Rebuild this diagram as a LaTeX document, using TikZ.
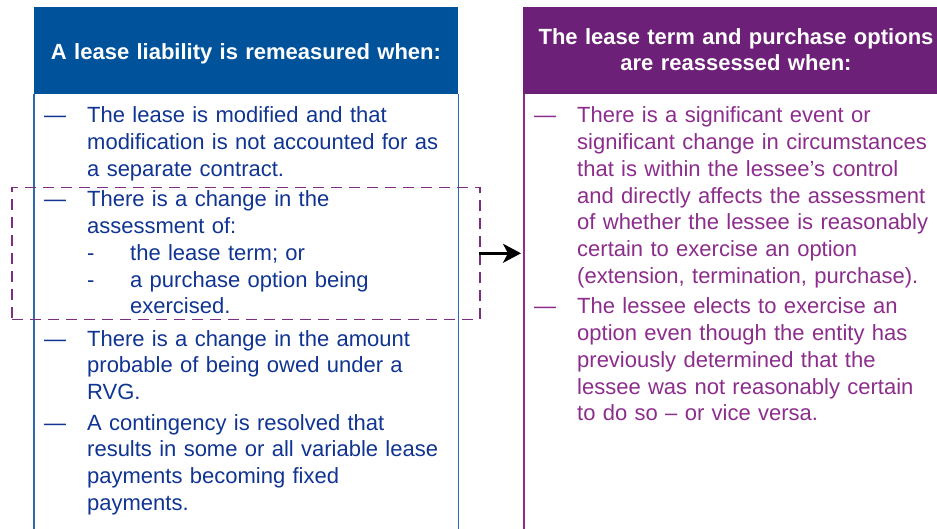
\documentclass[tikz,border=0pt]{standalone}
\usepackage{fontspec}
\setmainfont{Liberation Sans}
\usetikzlibrary{arrows.meta}

\definecolor{hdblue}{RGB}{0,82,155}
\definecolor{txtblue}{RGB}{16,52,145}
\definecolor{lnblue}{RGB}{45,105,175}
\definecolor{hdpurple}{RGB}{109,32,119}
\definecolor{txtpurple}{RGB}{140,45,140}
\definecolor{dshpurple}{RGB}{125,45,130}

\begin{document}
\begin{tikzpicture}[x=1pt,y=-1pt,
    every node/.style={inner sep=0pt,font=\fontsize{22}{26.7}\selectfont},
    headbox/.style={anchor=north west,minimum height=87pt},
    headtxt/.style={anchor=base,text=white,text width=410pt,align=center,font=\fontsize{22}{26.7}\selectfont\bfseries},
    item/.style={anchor=base west,text width=358pt,align=left},
    bullet/.style={anchor=base west}]

    \useasboundingbox (0,0) rectangle (937,529);

    % header boxes
    \node[headbox,fill=hdblue,minimum width=424pt] (lhead) at (34,7) {};
    \node[headbox,fill=hdpurple,minimum width=414pt] (rhead) at (523,7) {};
    \node[headtxt] (ltitle) at (246,59.3) {A lease liability is remeasured when:};
    \node[headtxt] (rtitle) at (736,44.3) {The lease term and purchase options\\are reassessed when:};

    % side lines of the columns
    \draw[lnblue,line width=1.3pt] (lhead.south west) -- (lhead.south west |- 0,529);
    \draw[lnblue,line width=1.3pt] (lhead.south east) -- (lhead.south east |- 0,529);
    \draw[txtpurple,line width=1.3pt] ([xshift=1pt]rhead.south west) -- ([xshift=1pt]rhead.south west |- 0,529);

    % left column
    \foreach \y [count=\i] in {123,207,346,430}
        \node[bullet,txtblue] (ldash\i) at (44,\y) {\textemdash};
    \node[item,txtblue] (litem1) at (87,123) {The lease is modified and that\\modification is not accounted for as\\a separate contract.};
    \node[item,txtblue] (litem2) at (87,207) {There is a change in the\\assessment of:\\\makebox[43pt][l]{-}the lease term; or\\\makebox[43pt][l]{-}a purchase option being\\\hspace*{43pt}exercised.};
    \node[item,txtblue] (litem3) at (87,346) {There is a change in the amount\\probable of being owed under a\\RVG.};
    \node[item,txtblue] (litem4) at (87,430) {A contingency is resolved that\\results in some or all variable lease\\payments becoming fixed\\payments.};

    % right column
    \foreach \y [count=\i] in {123,314}
        \node[bullet,txtpurple] (rdash\i) at (534,\y) {\textemdash};
    \node[item,txtpurple] (ritem1) at (577,123) {There is a significant event or\\significant change in circumstances\\that is within the lessee’s control\\and directly affects the assessment\\of whether the lessee is reasonably\\certain to exercise an option\\(extension, termination, purchase).};
    \node[item,txtpurple] (ritem2) at (577,314) {The lessee elects to exercise an\\option even though the entity has\\previously determined that the\\lessee was not reasonably certain\\to do so \textendash{} or vice versa.};

    % dashed frame round the second item and the arrow
    \node[draw=dshpurple,line width=1.5pt,dash pattern=on 11pt off 7pt,minimum width=468pt,minimum height=132pt] (chg) at (246,253.3) {};
    \draw[-{Stealth[length=18pt,width=19pt,inset=5pt]},line width=2.6pt,shorten >=2pt] ([xshift=-2pt]chg.east) -- (rhead.south west |- chg.east);

\end{tikzpicture}
\end{document}
